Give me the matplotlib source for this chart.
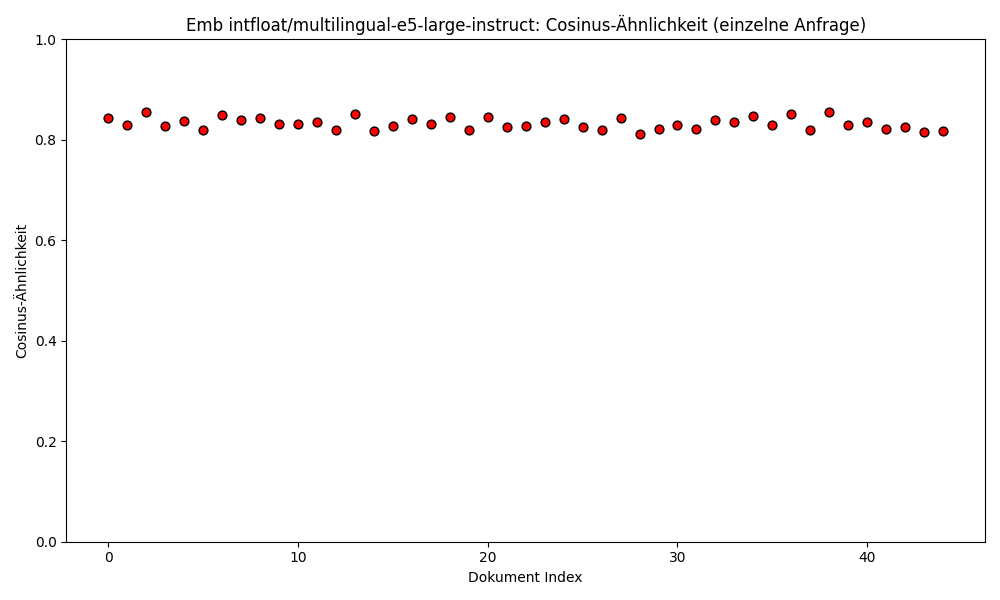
import matplotlib
matplotlib.use("Agg")
import matplotlib.pyplot as plt

indices = list(range(45))
similarity = [0.843, 0.829, 0.855, 0.827, 0.837, 0.819, 0.849, 0.839, 0.843, 0.831,
              0.831, 0.835, 0.819, 0.851, 0.817, 0.827, 0.841, 0.831, 0.845, 0.819,
              0.845, 0.825, 0.827, 0.835, 0.841, 0.825, 0.819, 0.843, 0.811, 0.821,
              0.829, 0.821, 0.839, 0.835, 0.847, 0.829, 0.851, 0.819, 0.855, 0.829,
              0.835, 0.821, 0.825, 0.815, 0.817]

fig, ax = plt.subplots(figsize=(10, 6), dpi=100)
ax.scatter(indices, similarity, c="red", edgecolors="black", s=40, zorder=3)
ax.set_ylim(0, 1)
ax.set_title("Emb intfloat/multilingual-e5-large-instruct: Cosinus-Ähnlichkeit (einzelne Anfrage)")
ax.set_xlabel("Dokument Index")
ax.set_ylabel("Cosinus-Ähnlichkeit")
fig.tight_layout()
fig.savefig("out.png")
